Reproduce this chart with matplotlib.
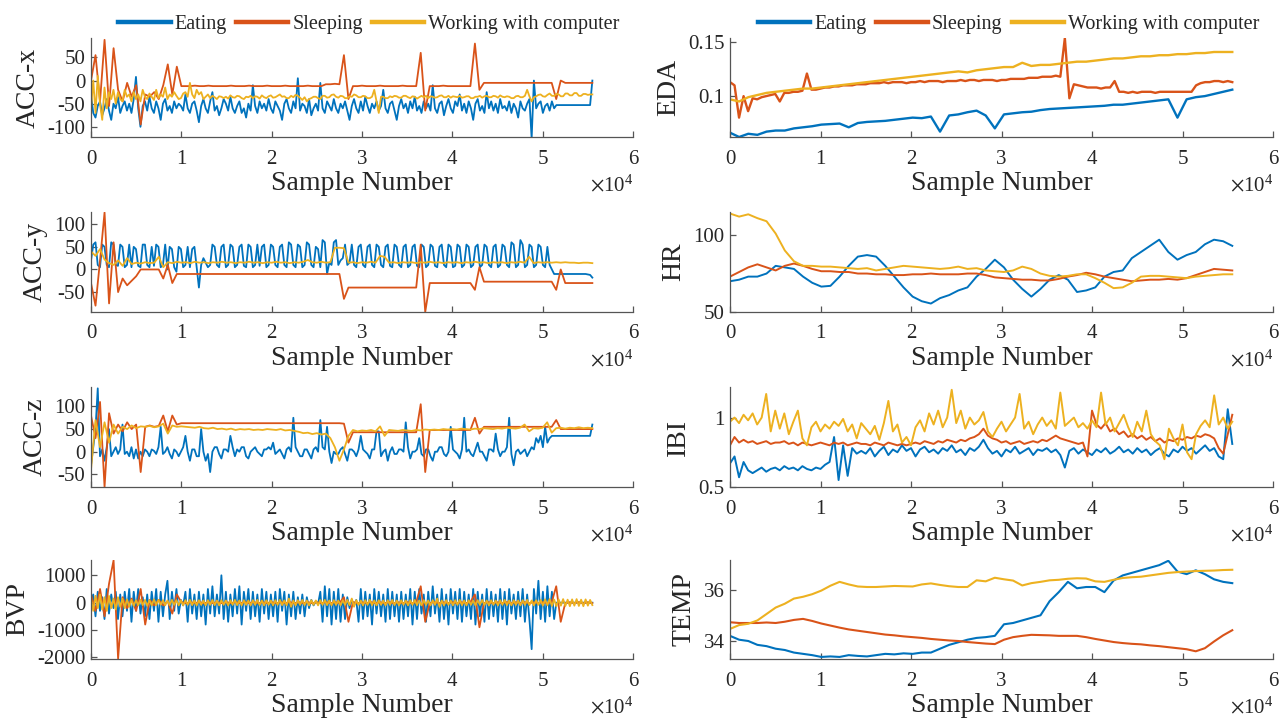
import numpy as np
import matplotlib
matplotlib.use('Agg')
import matplotlib.pyplot as plt
from matplotlib.ticker import FuncFormatter, FormatStrFormatter

plt.rcParams['font.family'] = ['Liberation Serif', 'DejaVu Serif']
plt.rcParams['mathtext.fontset'] = 'stix'
plt.rcParams['axes.unicode_minus'] = False

N_SAMPLES = 55500
activities = ['Eating', 'Sleeping', 'Working with computer']
colors = ['#0072BD', '#D95319', '#EDB120']

# ---- accelerometer x ----
acc_x_eating = [-30, -70, -80, -55, -45, -75, -60, -40, -65, -85,
                -50, -60, -35, -70, -55, -45, -65, -50, -70, -40,
                8, -60, -100, -55, -45, -65, -35, -60, -70, -45,
                -60, -85, -50, -40, -65, -55, -70, -45, -60, -50,
                -55, -65, -30, -60, -70, -50, -45, -65, -90, -55,
                -40, -60, -70, -45, -25, -65, -55, -75, -60, -40,
                -50, -65, -35, -60, -70, -55, -45, -70, -60, -80,
                -50, -65, -10, -55, -70, -45, -60, -50, -65, -40,
                -60, -70, -45, -55, -65, -85, -50, -40, -60, -70,
                -45, -60, 5, -65, -50, -55, -70, -40, -75, -60,
                -50, -65, -5, -60, -70, -45, -55, -65, -40, -60,
                -70, -50, -60, -45, -65, -85, -55, -40, -60, -70,
                -45, -65, -35, -55, -70, -50, -60, -45, -65, -55,
                -20, -60, -70, -50, -45, -65, -85, -55, -40, -60,
                -50, -70, -45, -60, -35, -65, -55, -70, -45, -60,
                -50, -65, -10, -60, -70, -50, -45, -75, -55, -40,
                -60, -70, -45, -55, -30, -65, -50, -70, -45, -60,
                -85, -50, -40, -65, -55, -70, -25, -60, -45, -65,
                -50, -70, -40, -60, -55, -65, -45, -70, -50, -60,
                -80, -45, -60, -65, -50, -40, -125, 0, -60, -50,
                -45, -70, -55, -50, -65, -45, -60, -53, -53, -53,
                -53, -53, -53, -53, -53, -53, -53, -53, -53, -53,
                -53, -53, -53, 0]
acc_x_sleeping = [0, 55, -45, 88, -55, 70, -20, -45, -5, -35,
                  -10, -95, -30, -35, -25, -40, -10, 35, -30, 30,
                  -12, -12, -12, -11, -12, -12, -11, -12, -12, -12,
                  -12, -11, -12, -12, -12, -11, -12, -12, -12, -11,
                  -12, -12, -12, -11, -12, -12, -12, -12, -11, -12,
                  -12, -12, -8, -8, -7, -8, 55, -40, -12, -12,
                  -11, -12, -12, -12, -11, -12, -12, -12, -12, -11,
                  -12, -12, -12, 60, -65, -12, -12, -12, -11, -12,
                  -12, -12, -12, -12, -12, 80, -20, -5, -5, -5,
                  -5, -5, -5, -5, -5, -5, -5, -5, -5, -5,
                  -5, -5, -5, -40, 0, -5, -5, -5, -5, -5,
                  -5, -5]
acc_x_working = [-60, 0, -70, 10, -50, -85, -15, -60, -25, -40,
                 -20, -50, -25, -40, -45, -20, -35, -30, -45, -25,
                 -40, -30, -45, -20, -35, -40, -28, -35, -42, -20,
                 -38, -30, -35, -15, -40, -30, -35, -25, -33, -40,
                 -38, -28, -25, -35, -5, -30, -38, -20, -30, -25,
                 -40, -35, -30, -38, -33, -36, -40, -34, -35, -38,
                 -35, -39, -32, -36, -37, -33, -34, -38, -40, -35,
                 -36, -33, -38, -34, -35, -39, -32, -36, -38, -34,
                 -32, -37, -36, -33, -30, -35, -34, -38, -38, -33,
                 -36, -31, -33, -37, -42, -36, -45, -40, -38, -35,
                 -35, -38, -40, -33, -33, -37, -36, -31, -30, -35,
                 -37, -33, -34, -38, -38, -34, -35, -30, -32, -36,
                 -36, -33, -34, -38, -38, -35, -20, -45, -70, -35,
                 -35, -38, -38, -34, -36, -33, -34, -37, -37, -33,
                 -33, -36, -38, -34, -35, -39, -36, -33, -36, -33,
                 -38, -34, -35, -37, -36, -33, -32, -36, -36, -33,
                 -37, -34, -35, -36, -33, -37, -36, -34, -34, -38,
                 -38, -35, -35, -33, -37, -34, -33, -36, -36, -33,
                 -34, -37, -32, -35, -36, -34, -35, -38, -38, -34,
                 -33, -36, -36, -33, -20, -34, -45, -36, -34, -31,
                 -30, -34, -35, -31, -28, -33, -33, -29, -30, -34,
                 -34, -28, -28, -32, -32, -27, -27, -33, -33, -29,
                 -29, -31, -30, -30]

# ---- accelerometer y ----
acc_y_eating = [20, 55, 60, 10, 5, 55, 50, 10, 5, 60,
                55, 10, 8, 55, 50, 5, 10, 55, 5, 50,
                45, 8, 5, 55, 55, 10, 5, 50, 8, 55,
                50, 5, 10, 55, 0, 50, 45, 5, -5, 50,
                45, 5, 10, 50, 5, 45, 50, 5, -40, 10,
                25, 15, 5, 10, 55, 50, 10, 5, 50, 55,
                5, 10, 55, 50, 5, 10, 50, 55, 8, 5,
                55, 50, 5, 10, 55, 8, 50, 55, 5, 10,
                55, 50, 10, 5, 50, 55, 10, 5, 60, 55,
                10, 5, 55, 50, 5, 10, 60, 55, 10, 5,
                50, 45, 5, 65, 60, -10, 15, 10, 60, 65,
                10, 20, 25, 55, 10, 15, 55, 10, 5, 50,
                55, 10, 5, 50, 55, 10, 5, 55, 50, 10,
                5, 50, 55, 8, 5, 55, 50, 10, 5, 50,
                55, 5, 10, 50, 55, 8, 5, 55, 50, 5,
                10, 55, 50, 8, 5, 50, 55, 10, 5, 55,
                50, 5, 8, 55, 50, 5, 10, 55, 50, 5,
                10, 50, 55, 5, 10, 55, 50, 10, 5, 50,
                55, 5, 10, 55, 50, 10, 5, 60, 55, 5,
                10, 65, 55, 5, 10, 55, 50, 5, 10, 55,
                50, 10, 5, 50, 10, 0, -10, -10, -10, -10,
                -10, -10, -10, -10, -10, -10, -10, -10, -10, -10,
                -10, -11, -12, -18]
acc_y_sleeping = [-30, -80, 20, 126, -75, 60, -50, -20, -35, -25,
                  -15, 0, 0, 0, 0, 0, -20, 10, -30, -10,
                  -10, -10, -10, -10, -10, -10, -10, -10, -10, -10,
                  -10, -10, -10, -10, -10, -10, -10, -10, -10, -10,
                  -10, -10, -10, -10, -10, -10, -10, -10, -10, -10,
                  -10, -10, -10, -10, -10, -10, -65, -40, -40, -40,
                  -40, -40, -40, -40, -40, -40, -40, -40, -40, -40,
                  -40, -40, -40, 55, -94, -30, -30, -30, -30, -30,
                  -30, -30, -30, -30, -30, -45, 5, -27, -27, -27,
                  -27, -27, -27, -27, -27, -27, -27, -27, -27, -27,
                  -27, -27, -27, -45, 0, -30, -30, -30, -30, -30,
                  -30, -30]
acc_y_working = [40, 30, 45, 22, 14, 10, 20, 8, 25, 12,
                 15, 13, 16, 14, 15, 28, 5, 16, 14, 17,
                 15, 16, 14, 17, 15, 16, 14, 16, 15, 17,
                 15, 16, 14, 16, 15, 17, 15, 16, 14, 16,
                 15, 17, 15, 16, 14, 16, 15, 17, 21, 16,
                 15, 17, 15, 16, 48, 48, 47, 15, 16, 14,
                 16, 15, 17, 15, 30, 28, 15, 16, 14, 16,
                 15, 16, 14, 16, 15, 17, 15, 16, 14, 16,
                 15, 16, 14, 16, 15, 17, 15, 16, 14, 16,
                 15, 16, 14, 16, 15, 17, 15, 28, 14, 16,
                 15, 16, 15, 16, 15, 16, 15, 15, 14, 15,
                 15, 14]

# ---- accelerometer z ----
acc_z_eating = [-30, 10, 50, 140, -10, 5, -20, 10, 50, -10,
                0, 10, -5, 5, 60, -5, 0, -10, 10, -15,
                5, -15, 0, -10, 5, 0, -10, 5, 2, -5,
                10, 55, -5, 0, 10, -5, -15, 5, 0, -10,
                0, 10, 35, 0, -20, 5, 5, -10, -10, 50,
                0, -20, -5, -45, 0, 10, 10, -5, -15, 5,
                5, 0, 35, 10, -10, 5, 0, 10, 10, -10,
                -15, 0, 5, 10, 0, -5, -10, 5, 5, 10,
                5, 20, -5, 0, 5, -5, -15, 5, 10, 0,
                75, 10, 0, -10, -10, 5, 5, -5, -15, 5,
                10, 0, 70, 10, 5, 55, 0, -25, 0, -5,
                -5, 5, 10, -5, -20, 5, 5, 0, -10, 5,
                35, 5, 0, -5, -15, 5, 5, 45, 45, -10,
                0, 5, -20, 0, 10, -5, -5, 5, 5, 0,
                65, 10, -15, 0, 0, 5, 30, -5, -10, 5,
                5, -10, -20, 0, 0, 10, 10, -5, -10, 0,
                55, 5, 0, -5, -15, 5, 75, 0, 5, -5,
                -10, 5, 20, 0, 0, -10, -20, 5, 5, 0,
                40, 5, -10, 0, 0, 10, 75, -5, -30, 0,
                5, -5, 0, 5, -10, 0, 10, 5, 30, 20,
                35, 10, 55, 20, 30, 35, 35, 35, 35, 35,
                35, 35, 35, 35, 35, 35, 35, 35, 35, 35,
                35, 35, 35, 60]
acc_z_sleeping = [80, 30, 110, -78, 85, 40, 60, 45, 65, 50,
                  60, -45, 55, 58, 55, 57, 80, 45, 80, 60,
                  63, 63, 63, 63, 63, 63, 63, 63, 63, 63,
                  63, 63, 63, 63, 63, 63, 63, 63, 63, 63,
                  63, 63, 63, 63, 63, 63, 63, 63, 63, 63,
                  63, 63, 63, 63, 63, 63, 62, 20, 43, 43,
                  43, 43, 43, 43, 43, 43, 43, 43, 43, 43,
                  43, 43, 43, 105, -45, 48, 48, 48, 48, 48,
                  48, 48, 48, 48, 48, 75, 40, 55, 55, 55,
                  55, 55, 55, 55, 55, 55, 55, 55, 55, 55,
                  55, 55, 55, 70, 50, 50, 50, 50, 50, 50,
                  50, 50]
acc_z_working = [-40, 70, 10, 65, 20, 60, 40, 55, 50, 58,
                 52, 56, 55, 57, 54, 56, 62, 40, 58, 55,
                 56, 55, 54, 53, 55, 52, 51, 53, 50, 51,
                 49, 51, 48, 50, 49, 50, 48, 49, 48, 50,
                 49, 48, 50, 47, 48, 46, 44, 41, 42, 39,
                 41, 38, 40, 30, 10, -20, 5, 35, 48, 45,
                 47, 46, 48, 45, 56, 35, 48, 47, 46, 48,
                 47, 46, 48, 47, 49, 48, 49, 48, 50, 49,
                 50, 49, 51, 50, 49, 51, 50, 52, 51, 50,
                 52, 51, 53, 52, 51, 53, 60, 45, 52, 51,
                 53, 65, 42, 52, 53, 51, 53, 52, 54, 52,
                 53, 52]

# ---- blood volume pulse ----
bvp_eating = [0, 300, -500, 400, -300, 200, -600, 500, -400, 300,
              -200, 400, -600, 300, -500, 400, -300, 500, -700, 400,
              -300, 500, -400, 200, -500, 300, -600, 400, -300, 500,
              -700, 400, -500, 300, 800, -600, 400, -300, 500, -400,
              100, -100, 400, -700, 500, -400, 300, -600, 400, -500,
              300, -800, 500, -400, 600, -500, 300, -400, 1000, -600,
              400, -700, 300, -500, 500, -400, 600, -800, 400, -300,
              500, -600, 400, -500, 300, -700, 500, -400, 400, -600,
              300, -500, 400, -700, 500, -300, 400, -800, 300, -500,
              400, -600, 200, -400, 300, -500, 200, -200, 100, -100,
              50, -50, 400, -700, 600, -500, 500, -800, 400, -600,
              500, -700, 300, -600, 200, -200, 100, -100, 100, -700,
              500, -600, 400, -500, 300, -800, 500, -400, 400, -500,
              300, -700, 500, -600, 400, -500, 300, -700, 400, -600,
              300, -500, 500, -800, 400, -600, 500, -400, 300, -700,
              400, -500, 600, -400, 300, -700, 500, -600, 300, -800,
              500, -400, 400, -600, 500, -700, 400, -500, 300, -600,
              500, -800, 400, -500, 300, -700, 500, -600, 400, -500,
              300, -700, 500, -600, 400, -800, 500, -400, 300, -600,
              400, -500, 500, -700, 300, -600, -1700, 500, -400, 800,
              -600, 400, -700, 600, -500, 400, -600, 0, 0, 0,
              0, 0, 0, 0, 0, 0, 0, 0, 0, 0,
              0, 0, 0, 0]
bvp_sleeping = [300, -300, 500, -500, 700, 1550, -2050, 200, -200, 150,
                -300, 500, -800, 100, -100, 100, -100, 50, -400, 300,
                20, -20, 15, -15, 20, -20, 15, -15, 20, -20,
                15, -15, 20, -20, 15, -15, 20, -20, 15, -15,
                20, -20, 15, -15, 20, -20, 15, -15, 20, -20,
                15, -15, 20, -20, 15, -15, 200, -700, 20, -20,
                15, -15, 20, -20, 15, -15, 20, -20, 15, -15,
                20, -20, 15, 600, -700, -15, 20, -20, 15, -15,
                20, -20, 15, -15, 20, 300, -900, -15, 20, -20,
                15, -15, 20, -20, 15, -15, 20, -20, 15, -15,
                20, -20, 15, 600, -700, -20, 15, -15, 20, -20,
                15, -15]
bvp_working = [150, -300, 250, -200, 300, -250, 200, -300, 250, -200,
               150, -250, 200, -150, 150, -200, 120, -150, 100, -120,
               90, -100, 110, -90, 100, -120, 90, -100, 120, -90,
               100, -80, 90, -100, 80, -90, 100, -80, 90, -100,
               80, -100, 90, -80, 100, -90, 80, -100, 90, -80,
               80, -100, 90, -80, 100, -90, 80, -100, 90, -80,
               80, -100, 90, -80, 100, -90, 80, -100, 90, -80,
               80, -100, 90, -80, 100, -90, 80, -100, 90, -80,
               80, -100, 90, -80, 100, -90, 80, -100, 150, -150,
               80, -100, 90, -80, 100, -90, 80, -100, 90, -80,
               80, -100, 90, -80, 100, -90, 80, -100, 90, -80,
               80, -100, 90, -80, 100, -90, 150, -150, 90, -80,
               80, -100, 90, -80, 100, -90, 80, -100, 90, -80,
               80, -100, 90, -80, 100, -90, 80, -100, 90, -80,
               80, -100, 90, -80, 100, -90, 80, -100, 90, -80,
               80, -100, 90, -80, 150, -150, 80, -100, 90, -80,
               80, -100, 90, -80, 100, -90, 80, -100, 90, -80,
               80, -100, 90, -80, 100, -90, 80, -100, 90, -80,
               80, -100, 90, -80, 100, -90, 80, -100, 90, -80,
               80, -100, 90, -80, 100, -90, 80, -100, 90, -80,
               100, -110, 120, -100, 130, -120, 110, -130, 120, -110,
               130, -120, 110, -130, 120, -110, 130, -120, 110, -130,
               120, -110, 100, -90]

# ---- electrodermal activity ----
eda_eating = [0.066, 0.062, 0.065, 0.064, 0.067, 0.068, 0.068, 0.070, 0.071, 0.072,
              0.0735, 0.074, 0.0745, 0.071, 0.075, 0.076, 0.0765, 0.077, 0.078, 0.079,
              0.080, 0.0795, 0.081, 0.067, 0.082, 0.083, 0.085, 0.0865, 0.082, 0.070,
              0.083, 0.084, 0.085, 0.0855, 0.087, 0.088, 0.0885, 0.089, 0.0895, 0.090,
              0.0905, 0.091, 0.092, 0.092, 0.093, 0.094, 0.095, 0.096, 0.097, 0.080,
              0.097, 0.099, 0.100, 0.102, 0.104, 0.106]
eda_sleeping = [0.113, 0.110, 0.080, 0.100, 0.086, 0.098, 0.097, 0.099, 0.100, 0.101,
                0.102, 0.095, 0.103, 0.103, 0.104, 0.104, 0.105, 0.121, 0.106, 0.106,
                0.107, 0.108, 0.108, 0.109, 0.109, 0.110, 0.110, 0.110, 0.111, 0.111,
                0.111, 0.112, 0.112, 0.112, 0.113, 0.112, 0.113, 0.113, 0.113, 0.112,
                0.113, 0.113, 0.114, 0.113, 0.114, 0.114, 0.114, 0.113, 0.114, 0.114,
                0.114, 0.115, 0.114, 0.115, 0.115, 0.114, 0.115, 0.115, 0.115, 0.114,
                0.115, 0.115, 0.116, 0.116, 0.116, 0.116, 0.117, 0.117, 0.117, 0.118,
                0.118, 0.118, 0.119, 0.118, 0.154, 0.098, 0.111, 0.110, 0.109, 0.108,
                0.108, 0.108, 0.107, 0.108, 0.108, 0.114, 0.104, 0.104, 0.103, 0.104,
                0.103, 0.104, 0.104, 0.104, 0.103, 0.104, 0.104, 0.104, 0.104, 0.104,
                0.104, 0.104, 0.104, 0.110, 0.112, 0.113, 0.113, 0.114, 0.114, 0.113,
                0.114, 0.113]
eda_working = [0.097, 0.095, 0.099, 0.101, 0.103, 0.104, 0.105, 0.106, 0.107, 0.107,
               0.108, 0.109, 0.110, 0.111, 0.112, 0.113, 0.114, 0.115, 0.116, 0.117,
               0.118, 0.119, 0.120, 0.121, 0.122, 0.123, 0.122, 0.124, 0.125, 0.126,
               0.127, 0.127, 0.131, 0.128, 0.129, 0.129, 0.130, 0.131, 0.132, 0.132,
               0.133, 0.134, 0.135, 0.135, 0.136, 0.137, 0.137, 0.138, 0.138, 0.139,
               0.139, 0.140, 0.140, 0.141, 0.141, 0.141]

# ---- heart rate ----
hr_eating = [70, 71, 73, 73, 75, 80, 79, 78, 73, 69,
             66.5, 67, 73, 80, 86, 87, 86, 80, 73, 66,
             60, 57, 55.5, 59, 61, 64, 66, 73, 78, 84,
             79, 71, 65, 60, 65, 71, 74, 71, 63, 64,
             66, 73, 76, 77, 85, 89, 93, 97, 89, 84,
             87, 89, 94, 97, 96, 93]
hr_sleeping = [73, 76, 79, 81, 79, 77, 80, 81.5, 80, 78,
               76.5, 76.5, 76, 76, 75, 75, 74.5, 74.5, 74, 74,
               74.5, 74.5, 75, 74.5, 74.5, 74.5, 75, 75, 74, 72.5,
               72, 71.5, 71, 71, 70.5, 70.5, 71.5, 73, 74, 75.5,
               74.5, 73, 72, 71, 70, 70.5, 71, 71, 71.5, 71,
               72, 74, 76, 78, 77.5, 77]
hr_working = [114, 112, 113.5, 111, 109, 101, 90, 83, 80, 80,
              79.5, 79.5, 79, 78.5, 78, 78.5, 77, 78, 79, 80,
              79.5, 79, 78.5, 78, 78.5, 79.5, 78, 78.5, 77, 76.5,
              76, 77, 79.5, 78, 75, 73.5, 73, 73.5, 74.5, 74.5,
              72, 69, 65.5, 66, 69, 73, 73.5, 73.5, 73, 72.5,
              72, 73, 73.5, 74, 74.5, 74.5]

# ---- inter-beat interval ----
ibi_eating = [0.67, 0.72, 0.57, 0.68, 0.62, 0.60, 0.62, 0.64, 0.61, 0.63,
              0.64, 0.62, 0.65, 0.63, 0.64, 0.62, 0.65, 0.63, 0.62, 0.64,
              0.63, 0.66, 0.68, 0.86, 0.55, 0.80, 0.58, 0.78, 0.74, 0.76,
              0.74, 0.78, 0.72, 0.76, 0.79, 0.73, 0.77, 0.75, 0.80, 0.76,
              0.78, 0.72, 0.77, 0.79, 0.75, 0.77, 0.74, 0.78, 0.76, 0.80,
              0.75, 0.77, 0.73, 0.78, 0.76, 0.79, 0.84, 0.78, 0.74, 0.76,
              0.72, 0.77, 0.75, 0.79, 0.74, 0.76, 0.78, 0.73, 0.77, 0.76,
              0.78, 0.75, 0.77, 0.73, 0.64, 0.76, 0.78, 0.74, 0.77, 0.75,
              0.73, 0.77, 0.75, 0.78, 0.74, 0.76, 0.79, 0.75, 0.77, 0.74,
              0.78, 0.75, 0.77, 0.73, 0.76, 0.78, 0.74, 0.72, 0.77, 0.75,
              0.79, 0.76, 0.78, 0.74, 0.77, 0.80, 0.76, 0.78, 0.72, 0.70,
              1.06, 0.81]
ibi_sleeping = [0.80, 0.86, 0.82, 0.84, 0.82, 0.83, 0.81, 0.82, 0.83, 0.81,
                0.82, 0.82, 0.83, 0.81, 0.82, 0.80, 0.82, 0.81, 0.80, 0.81,
                0.82, 0.81, 0.80, 0.82, 0.81, 0.82, 0.80, 0.81, 0.82, 0.81,
                0.81, 0.80, 0.82, 0.81, 0.80, 0.82, 0.81, 0.80, 0.81, 0.80,
                0.81, 0.82, 0.81, 0.83, 0.82, 0.81, 0.83, 0.82, 0.84, 0.83,
                0.82, 0.84, 0.83, 0.85, 0.86, 0.88, 0.92, 0.87, 0.85, 0.84,
                0.82, 0.83, 0.81, 0.82, 0.83, 0.81, 0.82, 0.83, 0.82, 0.84,
                0.83, 0.85, 0.87, 0.85, 0.84, 0.83, 0.82, 0.81, 0.82, 0.72,
                1.05, 0.95, 0.92, 0.96, 0.90, 0.92, 0.88, 0.90, 0.86, 0.88,
                0.85, 0.87, 0.84, 0.86, 0.83, 0.85, 0.82, 0.84, 0.83, 0.85,
                0.84, 0.86, 0.85, 0.87, 0.86, 0.88, 0.87, 0.85, 0.78, 0.74,
                0.88, 1.02]
ibi_working = [0.97, 1.00, 0.96, 1.02, 0.98, 1.03, 0.95, 1.00, 1.17, 0.90,
               1.05, 0.92, 1.03, 0.88, 0.97, 1.05, 0.85, 0.80, 0.93, 0.97,
               0.90, 0.95, 0.92, 0.97, 0.94, 0.99, 0.90, 0.95, 0.85, 0.96,
               0.92, 0.88, 0.94, 0.84, 0.96, 1.12, 0.90, 0.95, 0.82, 0.86,
               0.80, 0.93, 0.98, 0.90, 1.03, 0.95, 1.05, 0.93, 1.00, 1.20,
               0.96, 1.05, 0.92, 1.00, 0.95, 0.98, 1.04, 0.90, 0.86, 0.92,
               0.97, 0.90, 0.95, 1.00, 1.17, 0.92, 0.97, 0.88, 0.95, 1.00,
               0.94, 0.98, 0.92, 1.18, 0.94, 0.97, 1.00, 0.93, 0.96, 0.92,
               0.98, 0.93, 1.18, 0.95, 1.00, 0.90, 0.96, 1.02, 0.93, 0.86,
               0.97, 0.90, 1.05, 0.88, 0.83, 0.80, 0.70, 0.92, 0.85, 0.80,
               0.95, 0.75, 0.70, 0.88, 0.94, 0.98, 0.93, 1.16, 0.95, 1.00,
               0.92, 0.97]

# ---- skin temperature ----
temp_eating = [34.2, 34.05, 34.0, 33.85, 33.8, 33.7, 33.65, 33.55, 33.5, 33.45,
               33.38, 33.4, 33.38, 33.45, 33.42, 33.4, 33.45, 33.5, 33.48, 33.52,
               33.5, 33.55, 33.55, 33.7, 33.85, 33.95, 34.05, 34.12, 34.15, 34.2,
               34.65, 34.7, 34.8, 34.9, 35.0, 35.55, 35.9, 36.3, 36.05, 36.1,
               36.1, 35.9, 36.35, 36.55, 36.65, 36.75, 36.85, 36.95, 37.12, 36.7,
               36.6, 36.75, 36.6, 36.4, 36.3, 36.25]
temp_sleeping = [34.73, 34.7, 34.7, 34.7, 34.72, 34.7, 34.75, 34.82, 34.86, 34.78,
                 34.68, 34.6, 34.52, 34.45, 34.4, 34.35, 34.3, 34.25, 34.22, 34.18,
                 34.15, 34.12, 34.08, 34.05, 34.02, 34.0, 33.96, 33.93, 33.9, 33.88,
                 34.05, 34.15, 34.2, 34.24, 34.23, 34.22, 34.2, 34.2, 34.2, 34.15,
                 34.08, 34.02, 33.96, 33.92, 33.89, 33.87, 33.83, 33.8, 33.76, 33.72,
                 33.68, 33.6, 33.72, 33.98, 34.22, 34.42]
temp_working = [34.47, 34.62, 34.67, 34.8, 35.05, 35.3, 35.45, 35.65, 35.72, 35.82,
                35.96, 36.15, 36.3, 36.2, 36.12, 36.1, 36.1, 36.12, 36.14, 36.13,
                36.12, 36.2, 36.24, 36.18, 36.13, 36.1, 36.1, 36.36, 36.32, 36.46,
                36.4, 36.35, 36.16, 36.25, 36.3, 36.36, 36.38, 36.42, 36.44, 36.43,
                36.32, 36.3, 36.38, 36.45, 36.48, 36.5, 36.55, 36.6, 36.65, 36.68,
                36.7, 36.72, 36.73, 36.74, 36.76, 36.77]

# (label, series, ylim, yticks, line width) per panel, left column then right column
left_panels = [
    ('ACC-x', [acc_x_eating, acc_x_sleeping, acc_x_working], (-122, 92), [-100, -50, 0, 50], 1.3),
    ('ACC-y', [acc_y_eating, acc_y_sleeping, acc_y_working], (-94, 127), [-50, 0, 50, 100], 1.3),
    ('ACC-z', [acc_z_eating, acc_z_sleeping, acc_z_working], (-78, 143), [-50, 0, 50, 100], 1.3),
    ('BVP', [bvp_eating, bvp_sleeping, bvp_working], (-2060, 1560), [-2000, -1000, 0, 1000], 1.3),
]
right_panels = [
    ('EDA', [eda_eating, eda_sleeping, eda_working], (0.062, 0.154), [0.1, 0.15], 1.7),
    ('HR', [hr_eating, hr_sleeping, hr_working], (50, 115), [50, 100], 1.4),
    ('IBI', [ibi_eating, ibi_sleeping, ibi_working], (0.5, 1.22), [0.5, 1], 1.4),
    ('TEMP', [temp_eating, temp_sleeping, temp_working], (33.3, 37.15), [34, 36], 1.5),
]

fig = plt.figure(figsize=(12.84, 7.18), dpi=100)
W, H = 1284, 718
row_px = [(38, 137), (212, 312), (387, 487), (560, 659)]
col_px = [(91, 633), (730, 1273)]

text_col = '#262626'
axis_col = '#555555'


def draw_panel(ax, name, series, ylim, yticks, lw):
    for vals, c, lab in zip(series, colors, activities):
        x = np.linspace(0, N_SAMPLES, len(vals))
        ax.plot(x, vals, color=c, lw=lw, label=lab)
    ax.set_xlim(0, 60000)
    ax.set_ylim(*ylim)
    ax.set_xticks(np.arange(0, 60001, 10000))
    ax.xaxis.set_major_formatter(FuncFormatter(lambda v, p: '%g' % (v / 1e4)))
    ax.set_yticks(yticks)
    ax.yaxis.set_major_formatter(FormatStrFormatter('%g'))
    for s in ['top', 'right']:
        ax.spines[s].set_visible(False)
    for s in ['left', 'bottom']:
        ax.spines[s].set_color(axis_col)
        ax.spines[s].set_linewidth(0.9)
    ax.tick_params(direction='in', length=4, width=0.9, color=axis_col,
                   labelsize=15, labelcolor=text_col)
    ax.tick_params(axis='x', pad=9)
    ax.tick_params(axis='y', pad=4)
    ax.set_xlabel('Sample Number', fontsize=20, color=text_col, labelpad=2)
    # y label sits just left of the tick labels, like the MATLAB layout
    ax.set_ylabel(name, fontsize=20, color=text_col, labelpad=5)
    ax.text(1.0, -0.49, r'$\times\mathregular{10^{4}}$', transform=ax.transAxes,
            ha='right', va='center', fontsize=15, color=text_col)


for c_idx, panels in enumerate([left_panels, right_panels]):
    x0, x1 = col_px[c_idx]
    for r_idx, (name, series, ylim, yticks, lw) in enumerate(panels):
        y0, y1 = row_px[r_idx]
        ax = fig.add_axes([x0 / W, 1 - y1 / H, (x1 - x0) / W, (y1 - y0) / H])
        draw_panel(ax, name, series, ylim, yticks, lw)
        if r_idx == 0:
            leg = ax.legend(loc='center', bbox_to_anchor=(0.513, 1.135), ncol=3,
                            frameon=False, fontsize=14.5, handlelength=2.6,
                            handletextpad=0.2, columnspacing=0.45, borderpad=0)
            for h in leg.get_lines():
                h.set_linewidth(3.2)
            for t in leg.get_texts():
                t.set_color(text_col)

fig.savefig('out.png', dpi=100)
